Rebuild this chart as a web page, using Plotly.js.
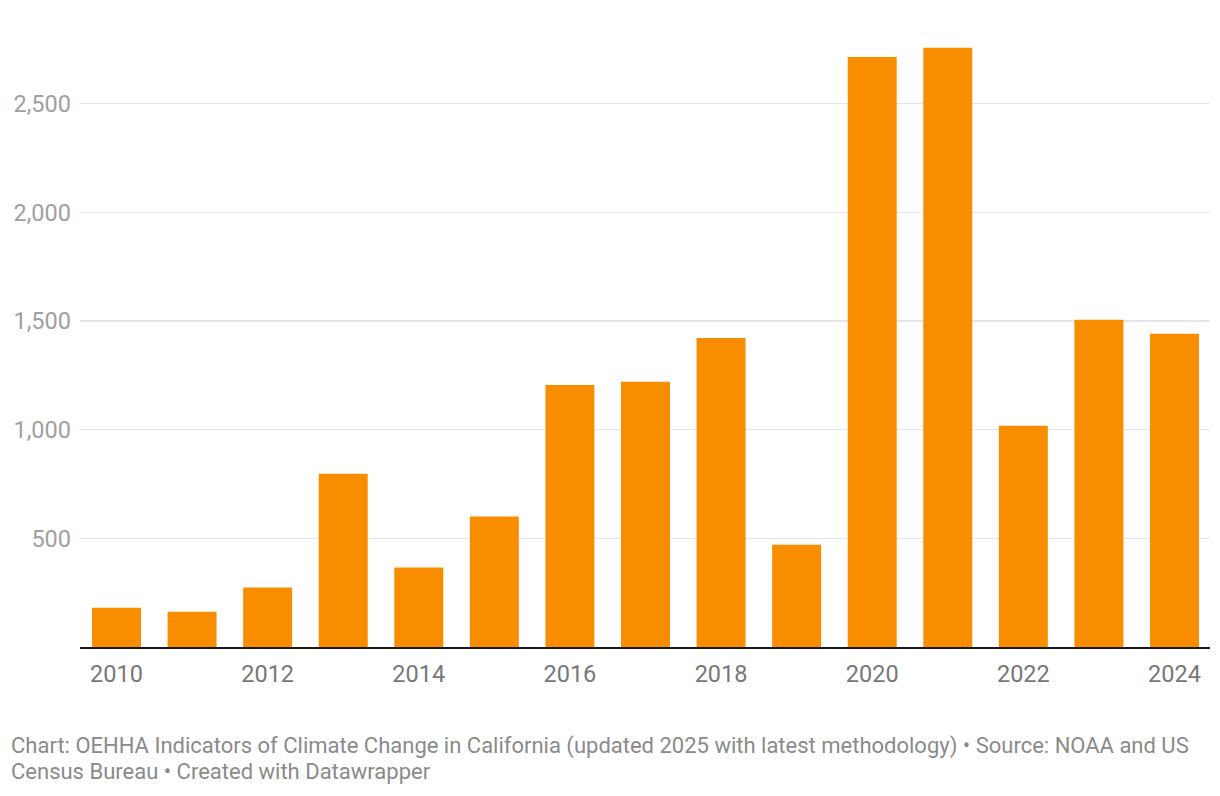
<!DOCTYPE html>
<html>
<head>
<meta charset="utf-8">
<script src="https://cdn.plot.ly/plotly-3.0.1.min.js"></script>
<style>
html,body{margin:0;padding:0;background:#fff;}
#chart{width:1220px;height:796px;}
</style>
</head>
<body>
<div id="chart"></div>
<script>
const years = [2010, 2011, 2012, 2013, 2014, 2015, 2016, 2017, 2018, 2019, 2020, 2021, 2022, 2023, 2024];
const values = [181, 162, 274, 797, 366, 601, 1206, 1220, 1422, 471, 2715, 2757, 1018, 1506, 1441];
const yTickVals = [500, 1000, 1500, 2000, 2500];
const yTickText = ["500", "1,000", "1,500", "2,000", "2,500"];
const xTickVals = [2010, 2012, 2014, 2016, 2018, 2020, 2022, 2024];
const footerLines = [
  "Chart: OEHHA Indicators of Climate Change in California (updated 2025 with latest methodology) • Source: NOAA and US",
  "Census Bureau • Created with Datawrapper"
];

const trace = {
  type: 'bar',
  x: years,
  y: values,
  marker: {color: '#F98D00'},
  hoverinfo: 'x+y'
};

const plotH = 617.3;
const plotW = 1130;
const footerY = [746.7, 772];

const layout = {
  width: 1220,
  height: 796,
  paper_bgcolor: '#ffffff',
  plot_bgcolor: '#ffffff',
  font: {family: 'Roboto, sans-serif'},
  margin: {l: 80, r: 10, t: 30, b: 148.7},
  bargap: 0.352,
  showlegend: false,
  xaxis: {
    range: [2009.517, 2024.47],
    tickvals: xTickVals,
    ticktext: xTickVals.map(String),
    showgrid: false,
    zeroline: false,
    showline: true,
    linecolor: '#1a1a1a',
    linewidth: 2,
    ticks: '',
    ticklabelstandoff: 5,
    tickfont: {size: 23.5, color: '#777777'},
    fixedrange: true
  },
  yaxis: {
    range: [0, 2839],
    tickvals: yTickVals,
    ticktext: yTickText,
    showgrid: true,
    gridcolor: '#e5e5e5',
    gridwidth: 1.5,
    zeroline: false,
    showline: false,
    ticks: '',
    ticklabelstandoff: 8,
    tickfont: {size: 23.5, color: '#a0a0a0'},
    fixedrange: true
  },
  annotations: footerLines.map((t, i) => ({
    xref: 'paper', yref: 'paper',
    x: -70 / plotW, y: (30 + plotH - footerY[i]) / plotH,
    xanchor: 'left', yanchor: 'middle',
    align: 'left',
    showarrow: false,
    borderpad: 0,
    text: t,
    font: {size: 22, color: '#8a8a8a', family: 'Roboto, sans-serif'}
  }))
};

Plotly.newPlot('chart', [trace], layout, {displayModeBar: false, staticPlot: true});
</script>
</body>
</html>
